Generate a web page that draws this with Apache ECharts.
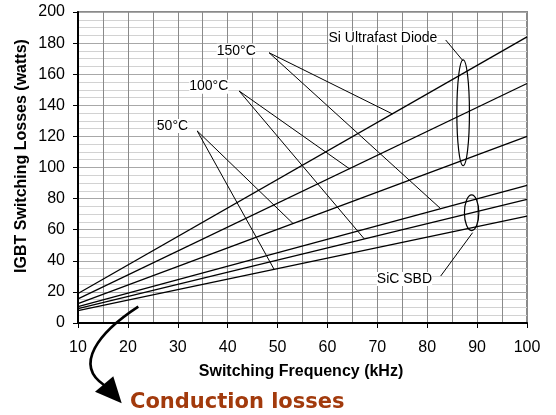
<!DOCTYPE html>
<html>
<head>
<meta charset="utf-8">
<script src="https://cdn.jsdelivr.net/npm/echarts@6/dist/echarts.min.js"></script>
<style>
html,body{margin:0;padding:0;background:#fff;}
#c{width:556px;height:415px;}
</style>
</head>
<body>
<div id="c"></div>
<script>
// ---- data ----
var freq = [10, 100];                 // kHz
var si150 = [19, 184];
var si100 = [15.5, 154];
var si50 = [12.5, 120];
var sic150 = [10.5, 88.5];
var sic100 = [9.2, 79.5];
var sic50 = [8, 68.8];
var xTicks = [10, 20, 30, 40, 50, 60, 70, 80, 90, 100];
var yTicks = [0, 20, 40, 60, 80, 100, 120, 140, 160, 180, 200];

var FONT = '"Liberation Sans", Arial, sans-serif';

function pairs(ys) { return freq.map(function (x, i) { return [x, ys[i]]; }); }
function onLine(ys, x) { return ys[0] + (ys[1] - ys[0]) * (x - freq[0]) / (freq[1] - freq[0]); }

var seriesList = [si150, si100, si50, sic150, sic100, sic50].map(function (ys) {
  return {
    type: 'line', data: pairs(ys), symbol: 'none', silent: true,
    lineStyle: { color: '#000', width: 1.3 }
  };
});

var chart = echarts.init(document.getElementById('c'), null, { renderer: 'canvas' });
chart.setOption({
  animation: false,
  backgroundColor: '#fff',
  grid: { left: 78, right: 29, top: 12, bottom: 92, show: true, borderColor: '#8a8a8a', borderWidth: 2, backgroundColor: '#fff' },
  xAxis: {
    type: 'value', min: xTicks[0], max: xTicks[xTicks.length - 1], interval: 10,
    axisLine: { show: true, onZero: false, lineStyle: { color: '#000', width: 2 } },
    axisTick: { show: true, length: 5, lineStyle: { color: '#000', width: 1 } },
    axisLabel: { fontSize: 16, color: '#000', fontFamily: FONT, margin: 17 },
    splitLine: { show: true, lineStyle: { color: '#8a8a8a', width: 1 } },
    minorTick: { show: false, splitNumber: 2 },
    minorSplitLine: { show: true, lineStyle: { color: '#8a8a8a', width: 1 } }
  },
  yAxis: {
    type: 'value', min: yTicks[0], max: yTicks[yTicks.length - 1], interval: 20,
    axisLine: { show: true, lineStyle: { color: '#000', width: 2 } },
    axisTick: { show: true, length: 5, lineStyle: { color: '#000', width: 1 } },
    axisLabel: { fontSize: 16, color: '#000', fontFamily: FONT, margin: 13 },
    splitLine: { show: true, lineStyle: { color: '#a8a8a8', width: 1 } },
    minorTick: { show: false, splitNumber: 4 },
    minorSplitLine: { show: true, lineStyle: { color: '#d2d2d2', width: 1 } }
  },
  series: seriesList
});

// ---- annotations (data coordinates) ----
var callouts = [
  { from: [48.3, 173.8], to: [[73, si150], [82.7, sic150]] },
  { from: [42.3, 149.2], to: [[64.4, si100], [67.4, sic100]] },
  { from: [33.9, 123.5], to: [[53.1, si50], [49.3, sic50]] }
];
var labels = [
  { text: '150°C', at: [37.8, 175.1] },
  { text: '100°C', at: [32.3, 152] },
  { text: '50°C', at: [25.8, 126.7] },
  { text: 'Si Ultrafast Diode', at: [60.2, 183.1] },
  { text: 'SiC SBD', at: [69.9, 28.3] }
];
var leaders = [
  [[83.7, 182], [87.2, 168.5]],
  [[82.7, 30.2], [89.1, 58.1]]
];
var ellipses = [
  { c: [87.2, 135.2], rx: 6.3, ry: 53 },
  { c: [88.9, 70.9], rx: 7.2, ry: 17.8 }
];

function px(p) { return chart.convertToPixel({ gridIndex: 0 }, p); }

var g = [];
callouts.forEach(function (c) {
  var a = px(c.from);
  c.to.forEach(function (t) {
    var b = px([t[0], onLine(t[1], t[0])]);
    g.push({ type: 'line', silent: true, z: 10, shape: { x1: a[0], y1: a[1], x2: b[0], y2: b[1] }, style: { stroke: '#000', lineWidth: 1 } });
  });
});
leaders.forEach(function (l) {
  var a = px(l[0]), b = px(l[1]);
  g.push({ type: 'line', silent: true, z: 10, shape: { x1: a[0], y1: a[1], x2: b[0], y2: b[1] }, style: { stroke: '#000', lineWidth: 1 } });
});
ellipses.forEach(function (e) {
  var c = px(e.c);
  g.push({ type: 'ellipse', silent: true, z: 10, shape: { cx: c[0], cy: c[1], rx: e.rx, ry: e.ry }, style: { fill: null, stroke: '#000', lineWidth: 1.2 } });
});
labels.forEach(function (l) {
  var p = px(l.at);
  g.push({ type: 'text', silent: true, z: 11, x: p[0], y: p[1], style: { text: l.text, font: '14px ' + FONT, fill: '#000', textAlign: 'left', textVerticalAlign: 'middle', backgroundColor: '#fff' } });
});
// axis titles
g.push({ type: 'text', silent: true, x: 22, y: 156, rotation: Math.PI / 2, style: { text: 'IGBT Switching Losses (watts)', font: 'bold 16px ' + FONT, fill: '#000', textAlign: 'center', textVerticalAlign: 'middle' } });
g.push({ type: 'text', silent: true, x: 301, y: 372, style: { text: 'Switching Frequency (kHz)', font: 'bold 16px ' + FONT, fill: '#000', textAlign: 'center', textVerticalAlign: 'middle' } });
// curved arrow and caption
g.push({ type: 'bezierCurve', silent: true, z: 12, shape: { x1: 138.3, y1: 306.7, cpx1: 98, cpy1: 333, cpx2: 74, cpy2: 365, x2: 104, y2: 385 }, style: { stroke: '#000', lineWidth: 2.6, fill: null } });
g.push({ type: 'polygon', silent: true, z: 12, shape: { points: [[95, 391.7], [113.3, 376.2], [121.7, 403.3]] }, style: { fill: '#000' } });
g.push({ type: 'text', silent: true, x: 130, y: 403, style: { text: 'Conduction losses', font: 'bold 21px "DejaVu Sans", Verdana, sans-serif', fill: '#a23a0c', textAlign: 'left', textVerticalAlign: 'middle' } });

chart.setOption({ graphic: g });
</script>
</body>
</html>
